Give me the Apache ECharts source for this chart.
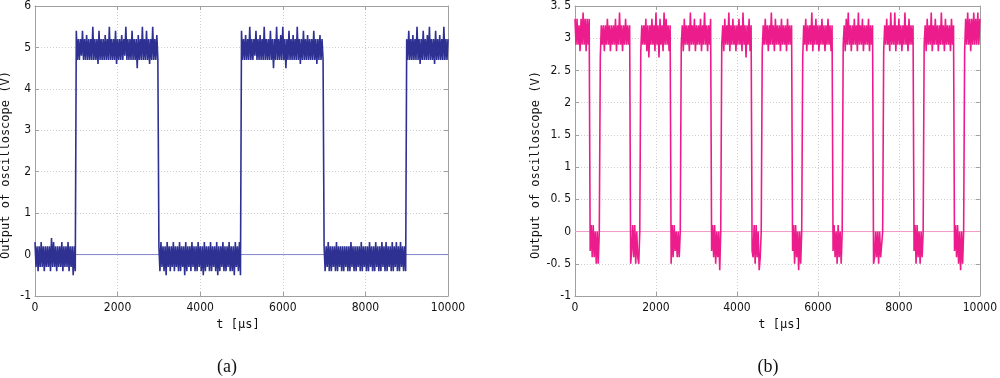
<!DOCTYPE html>
<html><head><meta charset="utf-8">
<script src="https://cdn.jsdelivr.net/npm/echarts@6/dist/echarts.min.js"></script>
<style>html,body{margin:0;padding:0;background:#fff}#c{width:1000px;height:378px}</style>
</head><body><div id="c"></div>
<script>
// ---- axis settings ----
const timeStepUs = 25;
const xRange = [0, 10000, 2000];           // min, max, tick step (µs)
const yRangeA = [-1, 6, 1];                // panel (a) volts
const yRangeB = [-1, 3.5, 0.5];            // panel (b) volts
const zeroLevel = 0;
const xTitle = 't [μs]';
const yTitle = 'Output of oscilloscope (V)';
const captions = ['(a)', '(b)'];

// ---- panel (a): oscilloscope samples, one every 25 µs ----
const lowA1 = [0.3,-0.3,0.2,-0.4,0.2,-0.3,0.3,-0.3,0.2,-0.4,
  0.2,-0.3,0.2,-0.3,0.2,-0.4,0.4,-0.3,0.3,-0.3,
  0.2,-0.4,0.2,-0.3,0.2,-0.3,0.3,-0.4,0.2,-0.3,
  0.2,-0.3,0.3,-0.4,0.2,-0.3,0.2,-0.5,0.2,-0.4];
const highA1 = [5.4,4.7,5.2,4.7,5.2,4.8,5.4,4.7,5.2,4.7,5.3,4.7,5.2,4.7,5.2,4.7,5.5,4.7,5.2,4.7,
  5.2,4.6,5.4,4.7,5.2,4.7,5.2,4.7,5.3,4.7,5.2,4.7,5.5,4.7,5.2,4.7,5.2,4.7,5.4,4.6,
  5.2,4.7,5.2,4.7,5.3,4.7,5.2,4.8,5.5,4.7,5.2,4.7,5.2,4.7,5.4,4.7,5.2,4.7,5.2,4.5,
  5.3,4.7,5.2,4.7,5.5,4.7,5.2,4.7,5.4,4.7,5.2,4.6,5.2,4.7,5.5,4.7,5.2,4.7,5.3,4.7];
const lowA2 = [0.2,-0.4,0.3,-0.3,0.2,-0.4,0.2,-0.5,0.3,-0.3,0.2,-0.4,0.2,-0.3,0.3,-0.4,0.2,-0.3,0.2,-0.4,
  0.3,-0.4,0.2,-0.3,0.2,-0.5,0.3,-0.4,0.2,-0.3,0.2,-0.4,0.3,-0.3,0.2,-0.4,0.2,-0.4,0.3,-0.3,
  0.2,-0.4,0.2,-0.5,0.3,-0.4,0.2,-0.3,0.2,-0.4,0.3,-0.4,0.2,-0.3,0.2,-0.4,0.3,-0.5,0.2,-0.4,
  0.2,-0.3,0.3,-0.4,0.2,-0.4,0.2,-0.3,0.3,-0.4,0.2,-0.4,0.2,-0.5,0.3,-0.3,0.2,-0.4,0.3,-0.5];
const highA2 = [5.4,4.7,5.2,4.7,5.3,4.7,5.2,4.7,5.5,4.7,5.2,4.7,5.2,4.8,5.4,4.7,5.2,4.7,5.3,4.7,
  5.2,4.7,5.5,4.7,5.2,4.7,5.2,4.7,5.4,4.7,5.2,4.5,5.2,4.7,5.5,4.7,5.2,4.7,5.3,4.7,
  5.5,4.7,5.2,4.5,5.2,4.7,5.4,4.7,5.2,4.7,5.3,4.7,5.2,4.7,5.5,4.7,5.2,4.6,5.2,4.7,
  5.4,4.7,5.2,4.7,5.3,4.7,5.2,4.7,5.2,4.7,5.4,4.7,5.2,4.6,5.2,4.7,5.3,4.7,5.2,4.7];
const lowA3 = [0.2,-0.4,0.2,-0.3,0.3,-0.4,0.2,-0.4,0.2,-0.3,0.2,-0.4,0.3,-0.4,0.2,-0.3,0.2,-0.4,0.2,-0.4,
  0.2,-0.3,0.2,-0.4,0.2,-0.4,0.3,-0.3,0.2,-0.4,0.2,-0.4,0.2,-0.3,0.2,-0.4,0.3,-0.4,0.2,-0.3,
  0.2,-0.4,0.2,-0.4,0.3,-0.3,0.2,-0.4,0.2,-0.4,0.3,-0.3,0.2,-0.4,0.2,-0.4,0.3,-0.3,0.2,-0.4,
  0.3,-0.4,0.2,-0.3,0.2,-0.4,0.3,-0.4,0.2,-0.3,0.3,-0.4,0.2,-0.4,0.3,-0.3,0.2,-0.4,0.2,-0.4];
const highA3 = [5.2,4.7,5.4,4.7,5.2,4.7,5.3,4.7,5.2,4.7,5.5,4.7,5.2,4.6,5.2,4.7,5.4,4.7,5.2,4.7,
  5.3,4.7,5.5,4.7,5.2,4.7,5.2,4.6,5.4,4.7,5.2,4.7,5.3,4.7,5.2,4.7,5.5,4.7,5.2,4.7,5.2];

// ---- panel (b): oscilloscope samples, one every 25 µs ----
const highB = [
  [3.3,2.9,3.3,2.9,3.2,2.8,3.3,2.9,3.4,2.9,3.3,2.8,3.3,2.9,3.3],
  [2.7,3.2,2.9,3.2,2.8,3.2,2.9,3.3,2.9,3.2,2.8,3.2,2.9,3.2,2.9,3.3,2.8,3.2,2.9,3.4,2.9,3.2,2.8,3.2,2.9,3.3,2.9,3.2,2.9,3.2],
  [2.8,3.2,2.9,3.2,2.9,3.3,2.8,3.2,2.7,3.2,2.9,3.3,2.9,3.2,2.8,3.4,2.9,3.2,2.7,3.3,2.9,3.2,2.8,3.4,2.9,3.3,2.9,3.2,2.8,3.2],
  [2.9,3.2,2.8,3.3,2.9,3.2,2.9,3.2,2.8,3.4,2.9,3.2,2.9,3.3,2.8,3.2,2.9,3.2,2.9,3.3,2.8,3.2,2.9,3.4,2.9,3.2,2.8,3.2,2.9,3.3],
  [2.9,3.2,2.8,3.3,2.9,3.2,2.9,3.4,2.8,3.2,2.9,3.3,2.9,3.2,2.8,3.2,2.9,3.3,2.9,3.2,2.8,3.4,2.9,3.2,2.7,3.2,2.9,3.3,2.8,3.2],
  [2.8,3.2,2.9,3.3,2.9,3.2,2.8,3.2,2.9,3.4,2.9,3.2,2.8,3.3,2.9,3.2,2.9,3.2,2.8,3.3,2.9,3.2,2.9,3.2,2.8,3.3,2.9,3.2,2.9,3.2],
  [2.7,3.2,2.9,3.3,2.8,3.2,2.9,3.2,2.9,3.4,2.8,3.2,2.9,3.3,2.9,3.2,2.8,3.2,2.9,3.3,2.9,3.2,2.8,3.2,2.9,3.3,2.9,3.2,2.8,3.2],
  [2.9,3.2,2.8,3.3,2.9,3.4,2.9,3.2,2.8,3.2,2.9,3.3,2.9,3.2,2.8,3.4,2.9,3.2,2.9,3.3,2.8,3.2,2.9,3.2,2.9,3.3,2.8,3.2,2.9,3.2],
  [2.8,3.2,2.9,3.3,2.9,3.2,2.8,3.4,2.9,3.2,2.9,3.4,2.8,3.2,2.9,3.3,2.9,3.2,2.8,3.2,2.9,3.4,2.9,3.2,2.8,3.3,2.9,3.2,2.9,3.2],
  [2.9,3.2,2.8,3.3,2.9,3.2,2.9,3.4,2.8,3.2,2.9,3.3,2.9,3.2,2.8,3.2,2.9,3.4,2.9,3.2,2.8,3.3,2.9,3.2,2.9,3.2,2.8,3.3,2.9,3.2],
  [2.8,3.3,2.9,3.4,2.9,3.3,2.8,3.3,2.9,3.4,2.9,3.3,2.9,3.4,2.9,3.3]
];
const lowB = [
  [-0.3,0.1,-0.4,0.1,-0.4,0,-0.5,0,-0.5,0],
  [-0.5,-0.3,0.1,-0.4,0.1,-0.5,0,-0.4,-0.5,0],
  [-0.5,0.1,-0.4,0.1,-0.3,0,-0.4,0,-0.4,0],
  [-0.3,0.1,-0.4,0.1,-0.5,0,-0.4,0,-0.6,0],
  [-0.3,-0.4,0.1,-0.5,0.1,-0.4,0,-0.6,-0.4,0],
  [-0.3,0.1,-0.5,0.1,-0.4,0,-0.6,0,-0.5,0],
  [-0.3,0.1,-0.4,0,-0.5,0.1,-0.4,0,-0.5,0],
  [-0.5,-0.4,0,-0.4,0,-0.5,0,-0.4,-0.4,0],
  [-0.3,0.1,-0.5,0.1,-0.4,0,-0.5,0,-0.4,0],
  [-0.3,0.1,-0.4,0.1,-0.5,0,-0.6,0,-0.5,0]
];

function buildTrace(segments) {
  const out = []; let i = 0;
  for (const seg of segments) for (const v of seg) { out.push([i * timeStepUs, v]); i++; }
  return out;
}
const traceA = buildTrace([lowA1, highA1, lowA2, highA2, lowA3, highA3]);
const segB = [];
for (let k = 0; k < lowB.length; k++) { segB.push(highB[k], lowB[k]); }
segB.push(highB[highB.length - 1]);
const traceB = buildTrace(segB);

const tickFont = '"Liberation Sans Narrow","DejaVu Sans Condensed","Liberation Sans",sans-serif';
const monoFont = '"DejaVu Sans Mono",monospace';
const boxColor = '#a0a0a0';

function xAx(grid, top) {
  return {
    type: 'value', gridIndex: grid, position: top ? 'top' : 'bottom',
    min: xRange[0], max: xRange[1], interval: xRange[2],
    axisLine: { show: true, onZero: false, lineStyle: { color: boxColor, width: 1 } },
    axisTick: { show: true, inside: true, length: 4, lineStyle: { color: boxColor } },
    axisLabel: { show: !top, margin: 6, color: '#111', fontFamily: tickFont, fontSize: 12,
      formatter: v => String(v) },
    splitLine: { show: !top, lineStyle: { type: [1, 2], color: '#cfcfcf', width: 1 } }
  };
}
function yAx(grid, range, right) {
  return {
    type: 'value', gridIndex: grid, position: right ? 'right' : 'left',
    min: range[0], max: range[1], interval: range[2],
    axisLine: { show: true, onZero: false, lineStyle: { color: boxColor, width: 1 } },
    axisTick: { show: true, inside: true, length: 4, lineStyle: { color: boxColor } },
    axisLabel: { show: !right, margin: 4, color: '#111', fontFamily: tickFont, fontSize: 12,
      formatter: v => String(v).replace('.', '. ') },
    splitLine: { show: !right, lineStyle: { type: [1, 2], color: '#cfcfcf', width: 1 } }
  };
}

const chart = echarts.init(document.getElementById('c'), null, { renderer: 'canvas' });
chart.setOption({
  animation: false,
  backgroundColor: '#fff',
  grid: [
    { left: 35, top: 5, width: 413, height: 291 },
    { left: 575, top: 5, width: 414, height: 291 }
  ],
  xAxis: [xAx(0, false), xAx(0, true), xAx(1, false), xAx(1, true)],
  yAxis: [yAx(0, yRangeA, false), yAx(0, yRangeA, true), yAx(1, yRangeB, false), yAx(1, yRangeB, true)],
  series: [
    { name: 'zeroA', type: 'line', xAxisIndex: 0, yAxisIndex: 0, z: 2, symbol: 'none', silent: true,
      data: [[xRange[0], zeroLevel], [xRange[1], zeroLevel]], lineStyle: { color: '#7f84cc', width: 1 } },
    { name: 'outputA', type: 'line', xAxisIndex: 0, yAxisIndex: 0, z: 3, symbol: 'none', sampling: null,
      data: traceA, lineStyle: { color: '#2e3192', width: 1.6, join: 'miter' } },
    { name: 'zeroB', type: 'line', xAxisIndex: 2, yAxisIndex: 2, z: 2, symbol: 'none', silent: true,
      data: [[xRange[0], zeroLevel], [xRange[1], zeroLevel]], lineStyle: { color: '#f29ac8', width: 1 } },
    { name: 'outputB', type: 'line', xAxisIndex: 2, yAxisIndex: 2, z: 3, symbol: 'none', sampling: null,
      data: traceB, lineStyle: { color: '#ec1c8c', width: 1.6, join: 'miter' } }
  ],
  graphic: [
    { type: 'text', x: 6, y: 165, rotation: Math.PI / 2,
      style: { text: yTitle, font: '12px ' + monoFont, fill: '#111', textAlign: 'center', textVerticalAlign: 'middle' } },
    { type: 'text', x: 536, y: 165, rotation: Math.PI / 2,
      style: { text: yTitle, font: '12px ' + monoFont, fill: '#111', textAlign: 'center', textVerticalAlign: 'middle' } },
    { type: 'text', x: 238, y: 325,
      style: { text: xTitle, font: '12px ' + monoFont, fill: '#111', textAlign: 'center', textVerticalAlign: 'middle' } },
    { type: 'text', x: 780, y: 325,
      style: { text: xTitle, font: '12px ' + monoFont, fill: '#111', textAlign: 'center', textVerticalAlign: 'middle' } },
    { type: 'text', x: 227, y: 367,
      style: { text: captions[0], font: '18px "Liberation Serif",serif', fill: '#111', textAlign: 'center', textVerticalAlign: 'middle' } },
    { type: 'text', x: 768, y: 367,
      style: { text: captions[1], font: '18px "Liberation Serif",serif', fill: '#111', textAlign: 'center', textVerticalAlign: 'middle' } }
  ]
});
</script></body></html>
